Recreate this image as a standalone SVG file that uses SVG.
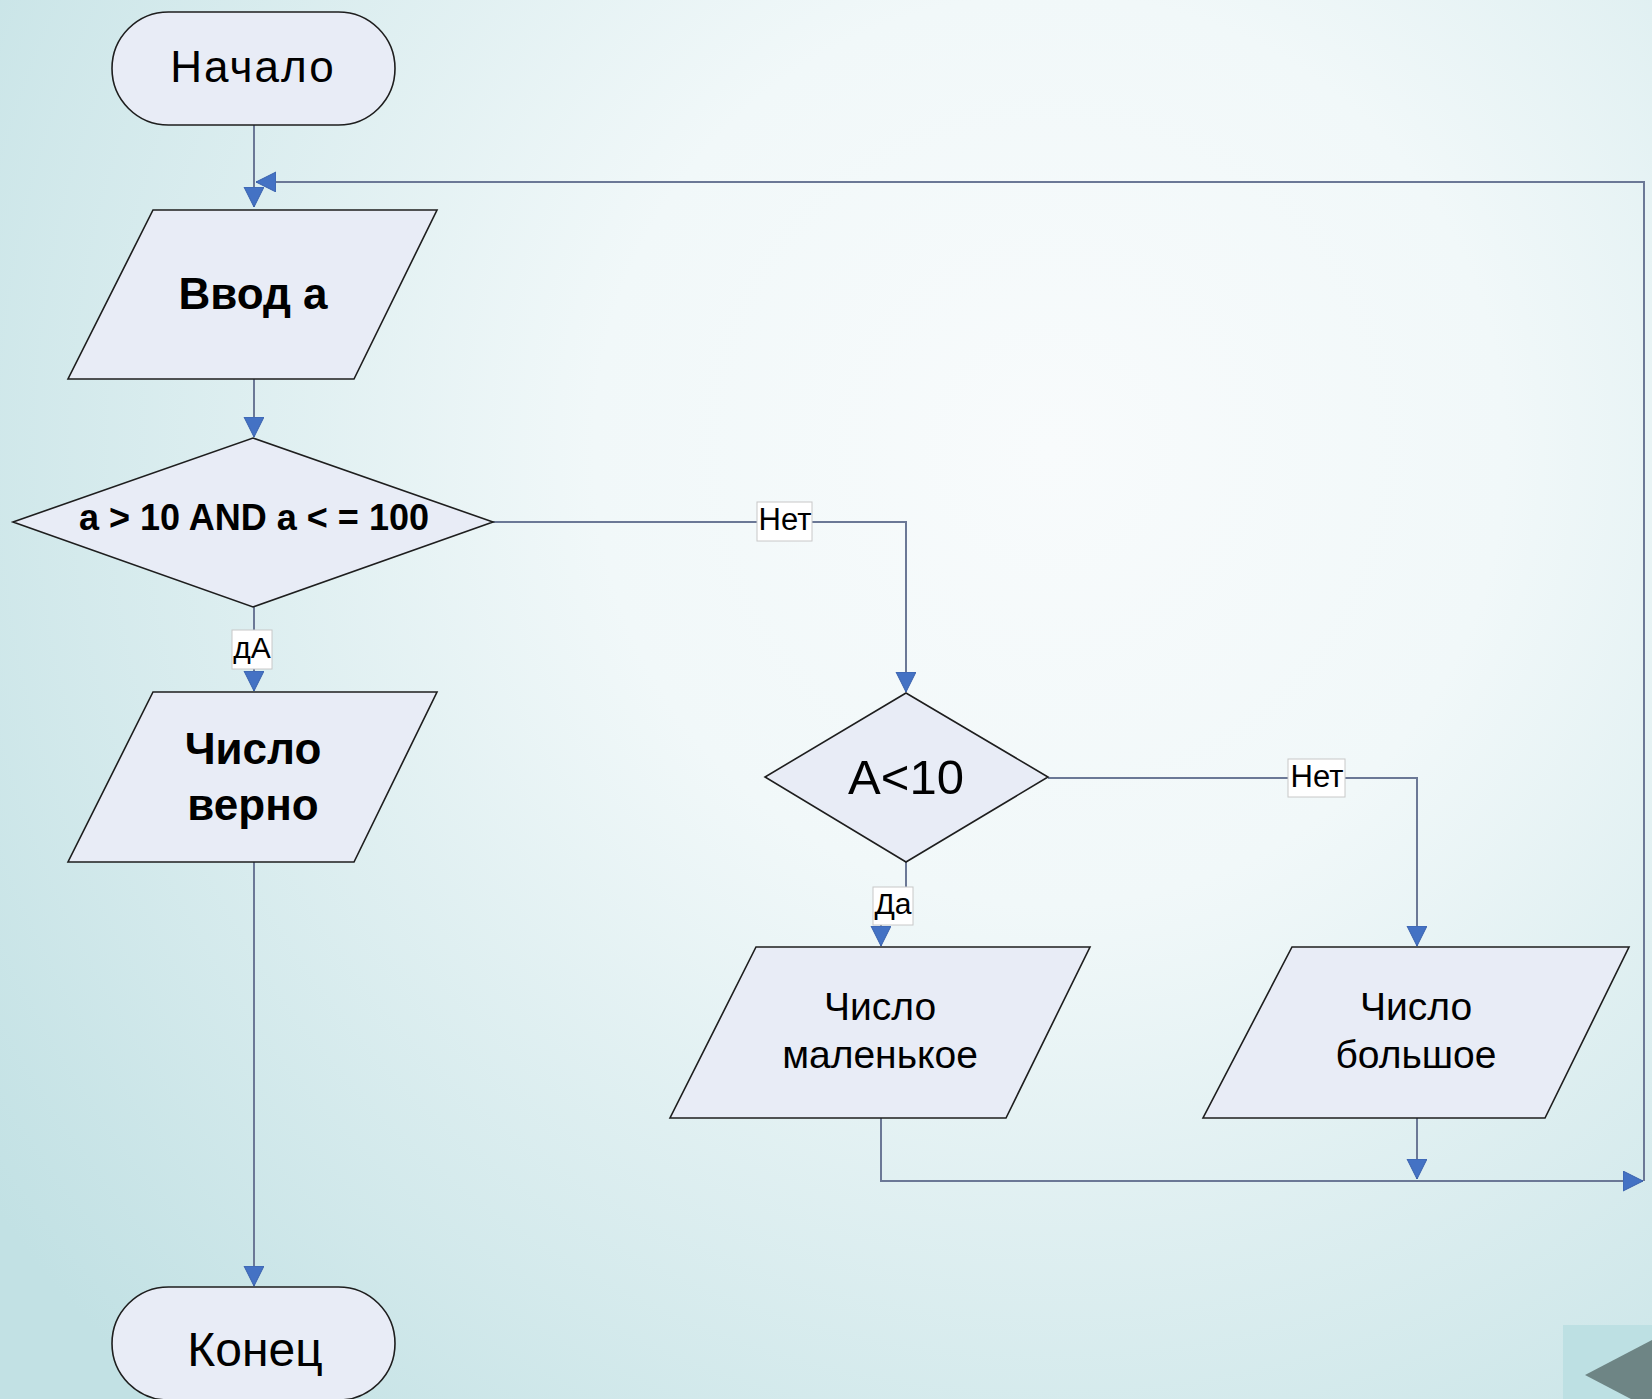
<svg xmlns="http://www.w3.org/2000/svg" width="1652" height="1399" viewBox="0 0 1652 1399">
<defs>
<radialGradient id="bg" gradientUnits="userSpaceOnUse" cx="1050" cy="450" r="1300">
<stop offset="0" stop-color="#f8fbfc"/>
<stop offset="0.35" stop-color="#f1f8f9"/>
<stop offset="1" stop-color="#c2e1e4"/>
</radialGradient>
<marker id="arr" markerUnits="userSpaceOnUse" markerWidth="22" markerHeight="22" refX="20" refY="10" orient="auto" viewBox="0 0 22 22">
<path d="M0,0 L20,10 L0,20 Z" fill="#4472c4" stroke="#3a62ad" stroke-width="1"/>
</marker>
</defs>
<style>
.node{fill:#e8ecf6;stroke:#1e1e1e;stroke-width:1.6}
.conn{fill:none;stroke:#6b7896;stroke-width:2}
.t{font-family:"Liberation Sans",Arial,sans-serif;fill:#000;text-anchor:middle}
.b{font-weight:bold}
.lbl{fill:#fff;stroke:#c8c8c8;stroke-width:1}
.ll{font-family:"Liberation Sans",Arial,sans-serif;fill:#000;text-anchor:middle;font-size:31px}
</style>
<rect width="1652" height="1399" fill="url(#bg)"/>
<rect x="1563" y="1325" width="89" height="74" fill="#bde0e3"/>
<polygon points="1585,1375 1652,1340 1652,1410" fill="#6e8585"/>

<g id="connectors">
<path class="conn" d="M254 125 V207" marker-end="url(#arr)"/>
<path class="conn" d="M1644 1181 V182 H256" marker-end="url(#arr)"/>
<path class="conn" d="M254 379 V437" marker-end="url(#arr)"/>
<path class="conn" d="M493 522 H906 V692" marker-end="url(#arr)"/>
<path class="conn" d="M254 607 V691" marker-end="url(#arr)"/>
<path class="conn" d="M254 862 V1286" marker-end="url(#arr)"/>
<path class="conn" d="M1048 778 H1417 V946" marker-end="url(#arr)"/>
<path class="conn" d="M906 862 V905 H881 V946" marker-end="url(#arr)"/>
<path class="conn" d="M881 1118 V1181 H1643" marker-end="url(#arr)"/>
<path class="conn" d="M1417 1118 V1179" marker-end="url(#arr)"/>
<g id="label-net1"><rect class="lbl" x="757" y="502" width="55" height="39"/><text class="ll" x="785" y="530">Нет</text></g>
<g id="label-net2"><rect class="lbl" x="1288" y="759" width="57" height="38"/><text class="ll" x="1317" y="787">Нет</text></g>
<g id="label-da1"><rect class="lbl" x="232" y="630" width="40" height="39"/><text class="ll" x="252" y="658" style="font-size:30px">дА</text></g>
<g id="label-da2"><rect class="lbl" x="873" y="887" width="40" height="38"/><text class="ll" x="893" y="914" style="font-size:30px">Да</text></g>
</g>

<g id="start">
<rect class="node" x="112" y="12" width="283" height="113" rx="56.5"/>
<text class="t" x="253" y="82" style="font-size:44px;letter-spacing:2px">Начало</text>
</g>
<g id="input">
<polygon class="node" points="153,210 437,210 354,379 68,379"/>
<text class="t b" x="253" y="309" style="font-size:44px">Ввод а</text>
</g>
<g id="cond1">
<polygon class="node" points="253,438 493,522 253,607 13,522"/>
<text class="t b" x="254" y="530" style="font-size:36px">a &gt; 10 AND a &lt; = 100</text>
</g>
<g id="ok">
<polygon class="node" points="153,692 437,692 354,862 68,862"/>
<text class="t b" x="253" y="764" style="font-size:44px">Число</text>
<text class="t b" x="253" y="820" style="font-size:44px">верно</text>
</g>
<g id="cond2">
<polygon class="node" points="906,693 1048,777 906,862 765,777"/>
<text class="t" x="906" y="794" style="font-size:49px">A&lt;10</text>
</g>
<g id="small">
<polygon class="node" points="756,947 1090,947 1006,1118 670,1118"/>
<text class="t" x="880" y="1020" style="font-size:39px">Число</text>
<text class="t" x="880" y="1068" style="font-size:39px">маленькое</text>
</g>
<g id="big">
<polygon class="node" points="1292,947 1629,947 1545,1118 1203,1118"/>
<text class="t" x="1416" y="1020" style="font-size:39px">Число</text>
<text class="t" x="1416" y="1068" style="font-size:39px">большое</text>
</g>
<g id="end">
<rect class="node" x="112" y="1287" width="283" height="113" rx="56.5"/>
<text class="t" x="255" y="1366" style="font-size:48px">Конец</text>
</g>
</svg>
